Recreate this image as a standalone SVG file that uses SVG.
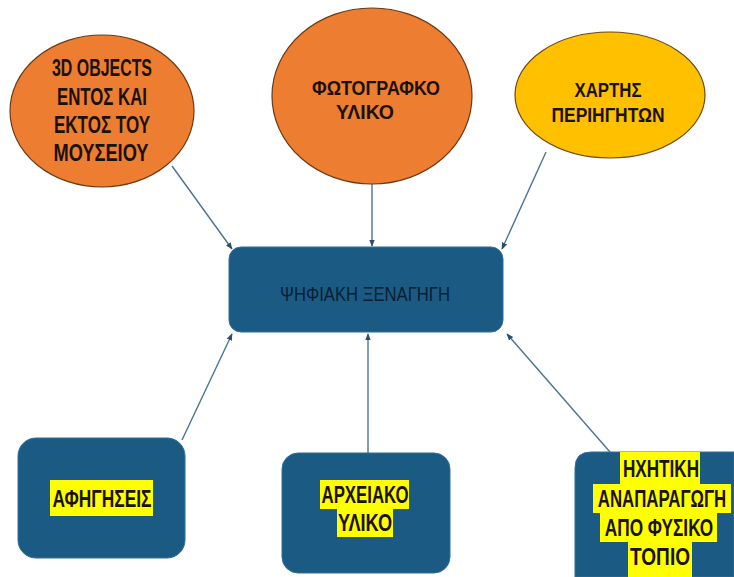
<svg xmlns="http://www.w3.org/2000/svg" width="734" height="577" viewBox="0 0 734 577">
<defs>
<style>
.lbl{font-family:"Liberation Sans",Arial,sans-serif;font-weight:bold;font-size:23px;fill:#1a1208;text-anchor:middle;dominant-baseline:central}
.sm{font-size:21px}
.mid{font-family:"Liberation Sans",Arial,sans-serif;font-size:20px;fill:#061f33;text-anchor:middle;dominant-baseline:central}
.orange{fill:#ed7d31;stroke:#6b3a14;stroke-width:1.2}
.yellow{fill:#ffc000;stroke:#6b4a10;stroke-width:1.2}
.box{fill:#1b5a82;stroke:#2f6f98;stroke-width:1}
.hl{fill:#ffff00}
.conn line{stroke:#4a7498;stroke-width:1.4;marker-end:url(#arr)}
</style>
<marker id="arr" viewBox="0 0 10 10" refX="9" refY="5" markerWidth="5" markerHeight="5" orient="auto">
<path d="M0,1 L10,5 L0,9 z" fill="#2e4d68"/>
</marker>
</defs>
<rect width="734" height="577" fill="#ffffff"/>
<g class="conn">
<line x1="172" y1="166" x2="232" y2="249"/>
<line x1="372" y1="184" x2="372" y2="246"/>
<line x1="546" y1="152" x2="502" y2="249"/>
<line x1="182" y1="440" x2="232" y2="334"/>
<line x1="368" y1="453" x2="368" y2="334"/>
<line x1="610" y1="452" x2="507" y2="334"/>
</g>
<g id="n1">
<ellipse class="orange" cx="102" cy="111" rx="92" ry="76"/>
<text class="lbl" x="102" y="68" textLength="100" lengthAdjust="spacingAndGlyphs">3D OBJECTS</text>
<text class="lbl" x="102" y="97" textLength="90" lengthAdjust="spacingAndGlyphs">ΕΝΤΟΣ ΚΑΙ</text>
<text class="lbl" x="102" y="125" textLength="96" lengthAdjust="spacingAndGlyphs">ΕΚΤΟΣ ΤΟΥ</text>
<text class="lbl" x="101" y="153" textLength="95" lengthAdjust="spacingAndGlyphs">ΜΟΥΣΕΙΟΥ</text>
</g>
<g id="n2">
<ellipse class="orange" cx="372" cy="96" rx="100" ry="88"/>
<text class="lbl sm" x="376" y="87" textLength="128" lengthAdjust="spacingAndGlyphs">ΦΩΤΟΓΡΑΦΚΟ</text>
<text class="lbl sm" x="365" y="111" textLength="58" lengthAdjust="spacingAndGlyphs">ΥΛΙΚΟ</text>
</g>
<g id="n3">
<ellipse class="yellow" cx="610" cy="95" rx="95" ry="63"/>
<text class="lbl sm" x="608" y="89" textLength="67" lengthAdjust="spacingAndGlyphs">ΧΑΡΤΗΣ</text>
<text class="lbl sm" x="608" y="114" textLength="113" lengthAdjust="spacingAndGlyphs">ΠΕΡΙΗΓΗΤΩΝ</text>
</g>
<g id="center">
<rect class="box" x="229" y="247" width="274" height="85" rx="12"/>
<text class="mid" x="365" y="294" textLength="170" lengthAdjust="spacingAndGlyphs">ΨΗΦΙΑΚΗ ΞΕΝΑΓΗΓΗ</text>
</g>
<g id="b1">
<rect class="box" x="18" y="438" width="167" height="120" rx="18"/>
<rect class="hl" x="50" y="480" width="103" height="36"/>
<text class="lbl" x="102" y="499" textLength="99" lengthAdjust="spacingAndGlyphs">ΑΦΗΓΗΣΕΙΣ</text>
</g>
<g id="b2">
<rect class="box" x="282" y="453" width="168" height="120" rx="16"/>
<rect class="hl" x="320" y="480" width="89" height="29"/>
<rect class="hl" x="337" y="509" width="56" height="28"/>
<text class="lbl" x="365" y="495" textLength="87" lengthAdjust="spacingAndGlyphs">ΑΡΧΕΙΑΚΟ</text>
<text class="lbl" x="365" y="523" textLength="54" lengthAdjust="spacingAndGlyphs">ΥΛΙΚΟ</text>
</g>
<g id="b3">
<path class="box" d="M734,452 L591,452 Q575,452 575,468 L575,577 L734,577 Z" stroke="none"/>
<rect class="hl" x="620" y="452" width="80" height="32"/>
<rect class="hl" x="593" y="484" width="138" height="29"/>
<rect class="hl" x="600" y="513" width="117" height="29"/>
<rect class="hl" x="628" y="542" width="64" height="35"/>
<text class="lbl" x="661" y="469" textLength="76" lengthAdjust="spacingAndGlyphs">ΗΧΗΤΙΚΗ</text>
<text class="lbl" transform="translate(662,499) scale(0.73,1)" x="0" y="0">ΑΝΑΠΑΡΑΓΩΓΗ</text>
<text class="lbl" transform="translate(659,528) scale(0.75,1)" x="0" y="0">ΑΠΟ ΦΥΣΙΚΟ</text>
<text class="lbl" x="660" y="557" textLength="60" lengthAdjust="spacingAndGlyphs">ΤΟΠΙΟ</text>
</g>
</svg>
